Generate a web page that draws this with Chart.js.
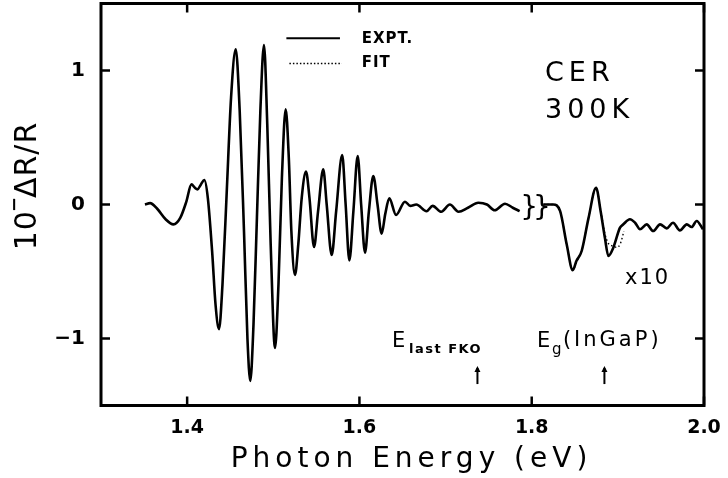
<!DOCTYPE html>
<html>
<head>
<meta charset="utf-8">
<script src="https://cdn.jsdelivr.net/npm/chart.js@4.4.1/dist/chart.umd.min.js"></script>
<style>
html,body{margin:0;padding:0;background:#fff;}
#wrap{width:728px;height:478px;position:relative;}
</style>
</head>
<body>
<div id="wrap"><canvas id="c"></canvas></div>
<script>
// ---- data ----
// main experimental trace (photon energy eV, 10^-? dR/R)
const expX = [1.351,1.357,1.365,1.375,1.384,1.392,1.399,1.405,1.409,1.412,1.416,1.420,1.424,1.429,1.433,1.437,1.441,1.446,1.451,1.4564,1.461,1.466,1.470,1.4733,1.477,1.481,1.485,1.4892,1.493,1.497,1.502,1.506,1.510,1.5144,1.518,1.521,1.5252,1.529,1.533,1.538,1.542,1.5473,1.552,1.558,1.562,1.5678,1.573,1.580,1.584,1.5883,1.593,1.598,1.602,1.6065,1.611,1.6161,1.621,1.6258,1.630,1.6347,1.6425,1.6529,1.659,1.666,1.678,1.685,1.695,1.705,1.715,1.726,1.738,1.748,1.757,1.769,1.778,1.786];
const expY = [0.00,0.01,-0.03,-0.11,-0.148,-0.10,0.02,0.15,0.125,0.113,0.15,0.183,0.05,-0.35,-0.75,-0.93,-0.60,0.10,0.80,1.158,0.70,-0.20,-1.00,-1.317,-0.90,-0.10,0.70,1.19,0.60,-0.30,-1.07,-0.60,0.20,0.71,0.35,-0.20,-0.526,-0.30,0.05,0.245,0.05,-0.317,-0.05,0.262,0.00,-0.377,-0.05,0.369,0.00,-0.417,-0.05,0.362,0.00,-0.36,-0.05,0.213,0.00,-0.218,-0.07,0.046,-0.078,0.021,-0.01,0.00,-0.05,-0.01,-0.054,0.00,-0.054,-0.024,0.013,0.00,-0.043,0.006,-0.024,-0.049];
// trace after the axis break, plotted x10
const x10X = [1.8135,1.825,1.833,1.8406,1.8476,1.852,1.858,1.866,1.8747,1.880,1.885,1.889,1.8947,1.9025,1.9064,1.914,1.920,1.9257,1.9335,1.941,1.949,1.9568,1.964,1.972,1.980,1.9857,1.9915,1.9988];
const x10Y = [0.00,0.00,-0.05,-0.297,-0.49,-0.42,-0.347,-0.10,0.125,-0.05,-0.25,-0.384,-0.322,-0.173,-0.148,-0.11,-0.136,-0.185,-0.148,-0.198,-0.148,-0.178,-0.136,-0.193,-0.148,-0.168,-0.123,-0.185];
// fit (dotted), visible where it departs from the experiment
const fitX = [1.8135,1.825,1.833,1.8406,1.8476,1.852,1.858,1.866,1.8747,1.880,1.885,1.889,1.894,1.899,1.903,1.907];
const fitY = [0.00,0.00,-0.05,-0.297,-0.49,-0.43,-0.34,-0.10,0.125,-0.04,-0.22,-0.29,-0.31,-0.32,-0.29,-0.20];
// ticks
const xTicks = [1.4,1.6,1.8,2.0];
const xTickLabels = ['1.4','1.6','1.8','2.0'];
const yTicks = [-1,0,1];
const yTickLabels = ['\u22121','0','1'];
// annotation markers (arrows) at photon energies
const arrowX = [1.737,1.8844];

const pts = (xs,ys)=>xs.map((x,i)=>({x:x,y:ys[i]}));

const FONT = '"DejaVu Sans", "Liberation Sans", sans-serif';

function txt(ctx, s, x, y, font, spacing, align, base){
  ctx.save();
  ctx.font = font;
  ctx.letterSpacing = (spacing||0)+'px';
  ctx.textAlign = align||'left';
  ctx.textBaseline = base||'middle';
  ctx.fillStyle = '#000';
  ctx.fillText(s, x, y);
  ctx.restore();
}

const decor = {
  id:'decor',
  afterDraw(chart){
    const ctx = chart.ctx, a = chart.chartArea;
    const xs = chart.scales.x, ys = chart.scales.y;
    ctx.save();
    // frame
    ctx.strokeStyle = '#000';
    ctx.lineWidth = 3;
    ctx.strokeRect(a.left, a.top, a.right-a.left, a.bottom-a.top);
    // inward ticks
    ctx.lineWidth = 2.5;
    const tl = 9;
    xTicks.forEach(v=>{
      const p = xs.getPixelForValue(v);
      ctx.beginPath(); ctx.moveTo(p,a.bottom); ctx.lineTo(p,a.bottom-tl); ctx.stroke();
      ctx.beginPath(); ctx.moveTo(p,a.top); ctx.lineTo(p,a.top+tl); ctx.stroke();
    });
    yTicks.forEach(v=>{
      const p = ys.getPixelForValue(v);
      ctx.beginPath(); ctx.moveTo(a.left,p); ctx.lineTo(a.left+tl,p); ctx.stroke();
      ctx.beginPath(); ctx.moveTo(a.right,p); ctx.lineTo(a.right-tl,p); ctx.stroke();
    });
    // axis titles
    txt(ctx,'Photon Energy (eV)', (a.left+a.right)/2+9, 460, '28px '+FONT, 5, 'center','middle');
    // y title: 10, raised minus, ΔR/R (rotated)
    ctx.save();
    ctx.translate(28, 186);
    ctx.rotate(-Math.PI/2);
    ctx.font = '30px '+FONT;
    ctx.letterSpacing = '1px';
    const w1 = ctx.measureText('10').width;
    ctx.font = '18px '+FONT;
    const wm = ctx.measureText('\u2212').width;
    ctx.font = '30px '+FONT;
    const w2 = ctx.measureText('\u0394R/R').width;
    const total = w1 + wm - 4 + w2;
    let xx = -total/2;
    txt(ctx,'10', xx, 0, '30px '+FONT, 1, 'left','middle');
    xx += w1 - 2;
    txt(ctx,'\u2212', xx, -13, 'bold 18px '+FONT, 0, 'left','middle');
    xx += wm - 2;
    txt(ctx,'\u0394R/R', xx, 0, '30px '+FONT, 1, 'left','middle');
    ctx.restore();
    // legend
    const lx0 = xs.getPixelForValue(1.5152), lx1 = xs.getPixelForValue(1.5774);
    const ly0 = ys.getPixelForValue(1.24), ly1 = ys.getPixelForValue(1.053);
    ctx.lineWidth = 2;
    ctx.beginPath(); ctx.moveTo(lx0,ly0); ctx.lineTo(lx1,ly0); ctx.stroke();
    ctx.setLineDash([1.5,2]);
    ctx.lineWidth = 1.5;
    ctx.beginPath(); ctx.moveTo(lx0+3,ly1); ctx.lineTo(lx1+2,ly1); ctx.stroke();
    ctx.setLineDash([]);
    const tx = xs.getPixelForValue(1.6026);
    txt(ctx,'EXPT.', tx, ly0+1, 'bold 15px '+FONT, 1);
    txt(ctx,'FIT', tx, ly1, 'bold 15px '+FONT, 1);
    // CER 300K
    const cx = xs.getPixelForValue(1.8154);
    txt(ctx,'CER', cx, ys.getPixelForValue(0.972), '27px '+FONT, 5);
    txt(ctx,'300K', cx, ys.getPixelForValue(0.698), '27px '+FONT, 5);
    // x10
    txt(ctx,'x10', xs.getPixelForValue(1.9083), ys.getPixelForValue(-0.549), '21px '+FONT, 2);
    // axis break symbol
    txt(ctx,'}}', xs.getPixelForValue(1.8015), ys.getPixelForValue(-0.03), '28px "DejaVu Sans ExtraLight", '+FONT, -5, 'center','middle');
    // E_last FKO
    const ey = ys.getPixelForValue(-1.026);
    const e1 = xs.getPixelForValue(1.6378);
    txt(ctx,'E', e1, ey, '21px '+FONT, 0);
    txt(ctx,'last FKO', e1+17, ey+8, 'bold 13px '+FONT, 1.5);
    const e2 = xs.getPixelForValue(1.806);
    txt(ctx,'E', e2, ey, '21px '+FONT, 0);
    txt(ctx,'g', e2+15, ey+8, '15px '+FONT, 0);
    txt(ctx,'(InGaP)', e2+26, ey-1, '21px '+FONT, 3);
    // arrows
    ctx.lineWidth = 2;
    arrowX.forEach(v=>{
      const p = xs.getPixelForValue(v);
      const t = ys.getPixelForValue(-1.205), b = ys.getPixelForValue(-1.34);
      ctx.beginPath(); ctx.moveTo(p,b); ctx.lineTo(p,t+2); ctx.stroke();
      ctx.beginPath(); ctx.moveTo(p-3,t+6); ctx.lineTo(p,t); ctx.lineTo(p+3,t+6); ctx.closePath(); ctx.fill();
    });
    ctx.restore();
  }
};

const lineStyle = {borderColor:'#000', borderWidth:2.6, pointRadius:0, cubicInterpolationMode:'monotone', fill:false};
const noPad = s=>{s.paddingTop = 0; s.paddingBottom = 0; s.paddingLeft = 0; s.paddingRight = 0;};

new Chart(document.getElementById('c'), {
  type:'line',
  data:{datasets:[
    Object.assign({label:'EXPT.', data:pts(expX,expY)}, lineStyle),
    Object.assign({label:'EXPT. x10', data:pts(x10X,x10Y)}, lineStyle),
    {label:'FIT', data:pts(fitX,fitY), borderColor:'#000', borderWidth:1.4, borderDash:[1.5,2.5], pointRadius:0, cubicInterpolationMode:'monotone', fill:false}
  ]},
  options:{
    responsive:true, maintainAspectRatio:false, animation:false,
    layout:{padding:{top:3.5, right:24, left:0, bottom:0}},
    plugins:{legend:{display:false}, tooltip:{enabled:false}},
    scales:{
      x:{type:'linear', min:1.3, max:2.0,
        afterBuildTicks:s=>{s.ticks = xTicks.map(v=>({value:v}));},
        afterFit:s=>{s.height = 72.5; noPad(s);},
        grid:{display:false, drawTicks:false}, border:{display:false},
        ticks:{padding:11, color:'#000', font:{family:FONT, size:19, weight:'bold'}, maxRotation:0,
          callback:(v)=>{const i = xTicks.findIndex(t=>Math.abs(t-v)<1e-6); return i>=0?xTickLabels[i]:'';}}
      },
      y:{type:'linear', min:-1.5, max:1.5,
        afterBuildTicks:s=>{s.ticks = yTicks.map(v=>({value:v}));},
        afterFit:s=>{s.width = 101; noPad(s);},
        grid:{display:false, drawTicks:false}, border:{display:false},
        ticks:{padding:16, color:'#000', font:{family:FONT, size:20, weight:'bold'},
          callback:(v)=>{const i = yTicks.findIndex(t=>Math.abs(t-v)<1e-6); return i>=0?yTickLabels[i]:'';}}
      }
    }
  },
  plugins:[decor]
});
</script>
</body>
</html>
